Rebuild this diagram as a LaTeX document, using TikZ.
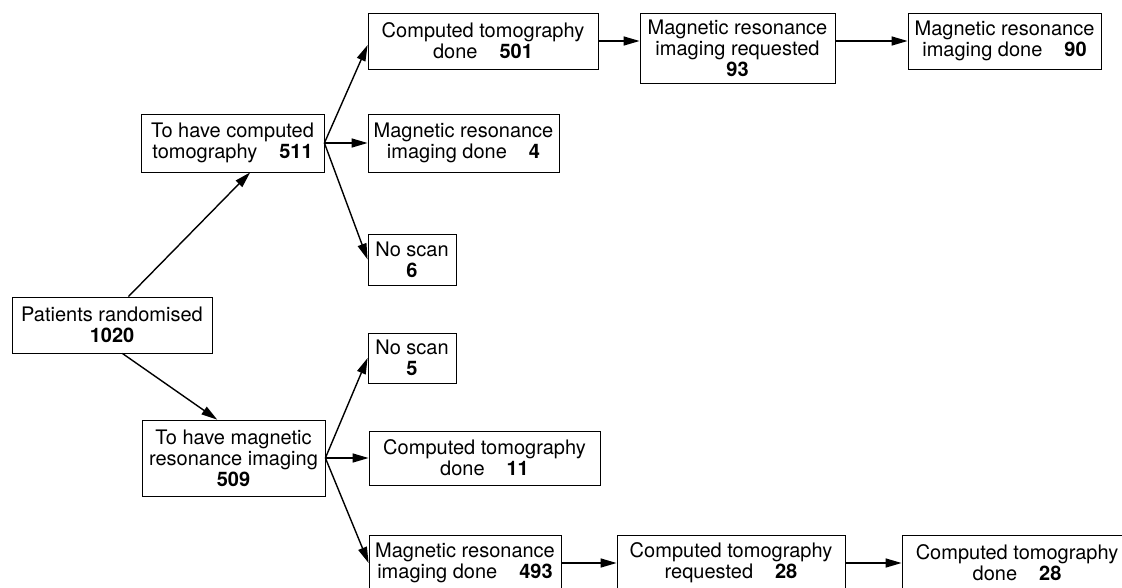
\documentclass[tikz,border=0pt]{standalone}
\usepackage{fontspec}
\setmainfont{TeX Gyre Heros}
\usetikzlibrary{arrows.meta}

\tikzset{
  box/.style={draw, line width=0.8pt, align=center, inner sep=0pt,
    font=\fontsize{20}{21}\selectfont},
  flow/.style={line width=1.4pt, -{Triangle[length=16pt,width=9pt]}}
}
\newcommand{\tally}[1]{\hspace{1.1em}\textbf{#1}}

\begin{document}
\begin{tikzpicture}[x=1pt,y=1pt,yscale=-1]
\clip (0,0) rectangle (1122,587);

% Text Node
\draw (112,325) node [box, minimum width=200pt, minimum height=56pt] (pat) {Patients randomised\\\textbf{1020}};
% Text Node
\draw (232.5,143) node [box, minimum width=183pt, minimum height=58pt] (tct) {To have computed\\tomography\tally{511}};
% Text Node
\draw (233.5,458) node [box, minimum width=183pt, minimum height=76pt] (tmr) {To have magnetic\\resonance imaging\\\textbf{509}};

% Text Node
\draw (483,41) node [box, minimum width=230pt, minimum height=56pt] (ctd501) {Computed tomography\\done\tally{501}};
% Text Node
\draw (737.5,48) node [box, minimum width=195pt, minimum height=70pt] (mrq93) {Magnetic resonance\\imaging requested\\\textbf{93}};
% Text Node
\draw (1004.5,41) node [box, minimum width=193pt, minimum height=56pt] (mrd90) {Magnetic resonance\\imaging done\tally{90}};
% Text Node
\draw (463.5,143) node [box, minimum width=191pt, minimum height=58pt] (mrd4) {Magnetic resonance\\imaging done\tally{4}};
% Text Node
\draw (412,259.5) node [box, minimum width=88pt, minimum height=51pt] (ns6) {No scan\\\textbf{6}};

% Text Node
\draw (412,358) node [box, minimum width=88pt, minimum height=50pt] (ns5) {No scan\\\textbf{5}};
% Text Node
\draw (484.5,458) node [box, minimum width=231pt, minimum height=54pt] (ctd11) {Computed tomography\\done\tally{11}};
% Text Node
\draw (465,563) node [box, minimum width=192pt, minimum height=56pt] (mrd493) {Magnetic resonance\\imaging done\tally{493}};
% Text Node
\draw (731,563) node [box, minimum width=228pt, minimum height=56pt] (ctr28) {Computed tomography\\requested\tally{28}};
% Text Node
\draw (1017,563) node [box, minimum width=230pt, minimum height=56pt] (ctd28) {Computed tomography\\done\tally{28}};

%Straight Lines
\draw [flow] (pat.60) -- (tct.-59);
\draw [flow] (pat.-70) -- (tmr.113);
%Straight Lines
\draw [flow] (tct.east) -- (ctd501.182);
\draw [flow] (tct.east) -- (mrd4.west);
\draw [flow] (tct.east) -- (ns6.west);
%Straight Lines
\draw [flow] (tmr.east) -- (ns5.west);
\draw [flow] (tmr.east) -- (ctd11.west);
\draw [flow] (tmr.east) -- (mrd493.west);
%Straight Lines
\draw [flow] (ctd501.east) -- (ctd501.east -| mrq93.west);
\draw [flow] (mrq93.east |- mrd90.west) -- (mrd90.west);
\draw [flow] (mrd493.east) -- (ctr28.west);
\draw [flow] (ctr28.east) -- (ctd28.west);
\end{tikzpicture}
\end{document}
